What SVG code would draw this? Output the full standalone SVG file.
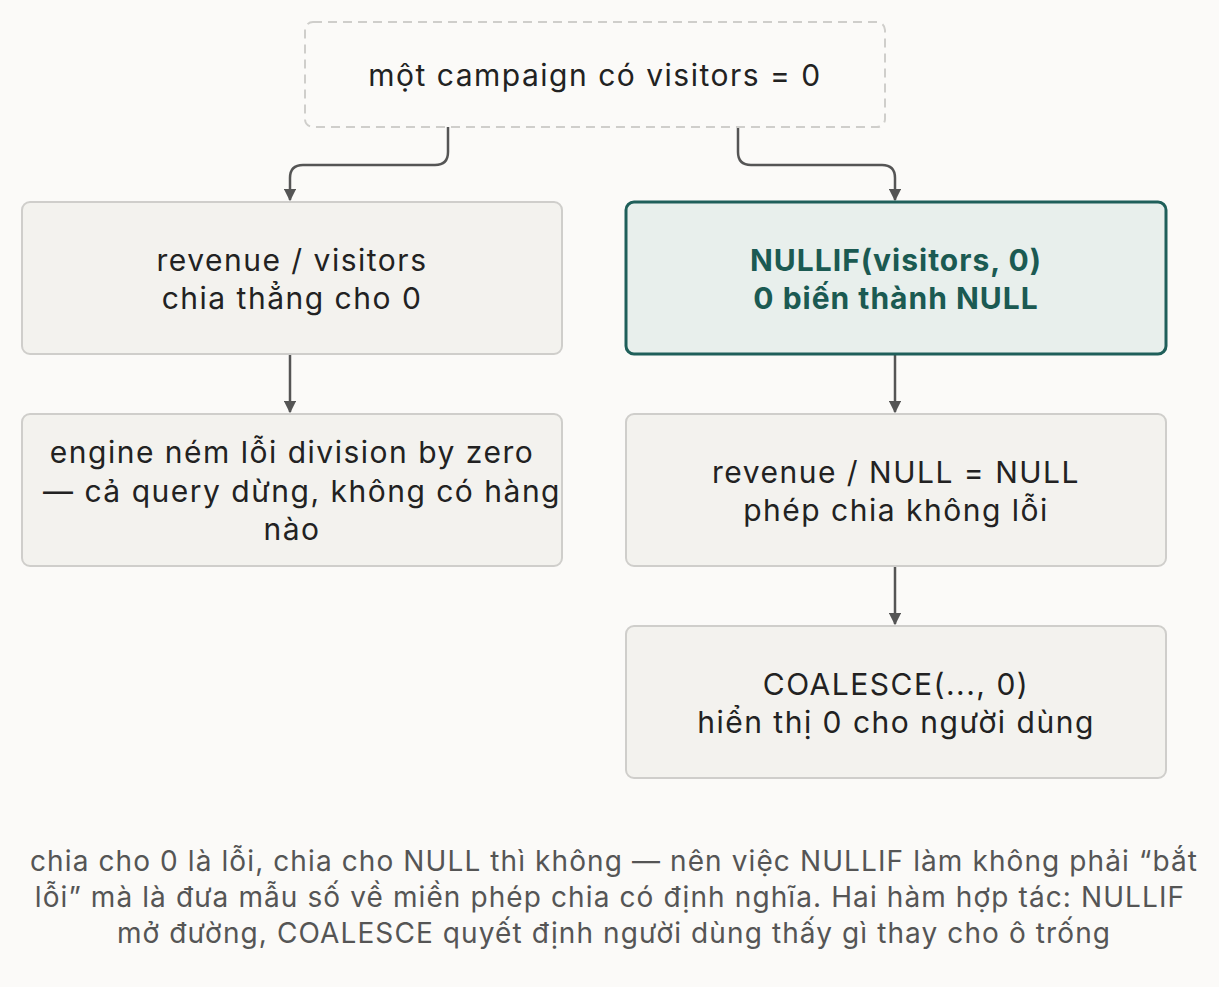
<svg xmlns="http://www.w3.org/2000/svg" width="1219" height="987" viewBox="0 0 1219 987">
<defs>
<style>
.box{fill:#f3f2ee;stroke:#cfcecb;stroke-width:2}
.t{font-family:Inter,"Noto Sans",sans-serif;font-size:30px;letter-spacing:1.5px;fill:#222;text-anchor:middle}
.h{fill:#1b5a52;font-weight:bold;letter-spacing:1px}
.c{fill:none;stroke:#555;stroke-width:2.5}
.cap{font-family:Inter,"Noto Sans",sans-serif;font-size:28px;letter-spacing:1.1px;fill:#555;text-anchor:middle}
</style>
<marker id="a" viewBox="0 0 10 10" refX="9" refY="5" markerWidth="5" markerHeight="5" orient="auto"><path d="M0,0 L10,5 L0,10 z" fill="#555"/></marker>
</defs>
<rect width="1219" height="987" fill="#fbfaf8"/>
<g id="connectors">
<path class="c" marker-end="url(#a)" d="M448,127 V152 Q448,165 435,165 H303 Q290,165 290,178 V200"/>
<path class="c" marker-end="url(#a)" d="M738,127 V152 Q738,165 751,165 H882 Q895,165 895,178 V200"/>
<path class="c" marker-end="url(#a)" d="M290,354 V412"/>
<path class="c" marker-end="url(#a)" d="M895,354 V412"/>
<path class="c" marker-end="url(#a)" d="M895,566 V624"/>
</g>
<g id="start"><rect x="305" y="22" width="580" height="105" rx="8" fill="#fbfaf8" stroke="#cfcecb" stroke-width="2" stroke-dasharray="9,6"/><text class="t" x="595" y="86">một campaign có visitors = 0</text></g>
<g id="l1"><rect class="box" x="22" y="202" width="540" height="152" rx="8"/><text class="t" x="292" y="271">revenue / visitors</text><text class="t" x="292" y="309">chia thẳng cho 0</text></g>
<g id="r1"><rect x="626" y="202" width="540" height="152" rx="8" fill="#e8efec" stroke="#1f5f5a" stroke-width="3"/><text class="t h" x="896" y="271">NULLIF(visitors, 0)</text><text class="t h" x="896" y="309">0 biến thành NULL</text></g>
<g id="l2"><rect class="box" x="22" y="414" width="540" height="152" rx="8"/><text class="t" x="292" y="463">engine ném lỗi division by zero</text><text class="t" x="302" y="502">— cả query dừng, không có hàng</text><text class="t" x="292" y="540">nào</text></g>
<g id="r2"><rect class="box" x="626" y="414" width="540" height="152" rx="8"/><text class="t" x="896" y="483">revenue / NULL = NULL</text><text class="t" x="896" y="521">phép chia không lỗi</text></g>
<g id="r3"><rect class="box" x="626" y="626" width="540" height="152" rx="8"/><text class="t" x="896" y="695">COALESCE(..., 0)</text><text class="t" x="896" y="733">hiển thị 0 cho người dùng</text></g>
<g id="caption">
<text class="cap" x="614" y="871">chia cho 0 là lỗi, chia cho NULL thì không — nên việc NULLIF làm không phải “bắt</text>
<text class="cap" x="610" y="907">lỗi” mà là đưa mẫu số về miền phép chia có định nghĩa. Hai hàm hợp tác: NULLIF</text>
<text class="cap" x="614" y="943">mở đường, COALESCE quyết định người dùng thấy gì thay cho ô trống</text>
</g>
</svg>
